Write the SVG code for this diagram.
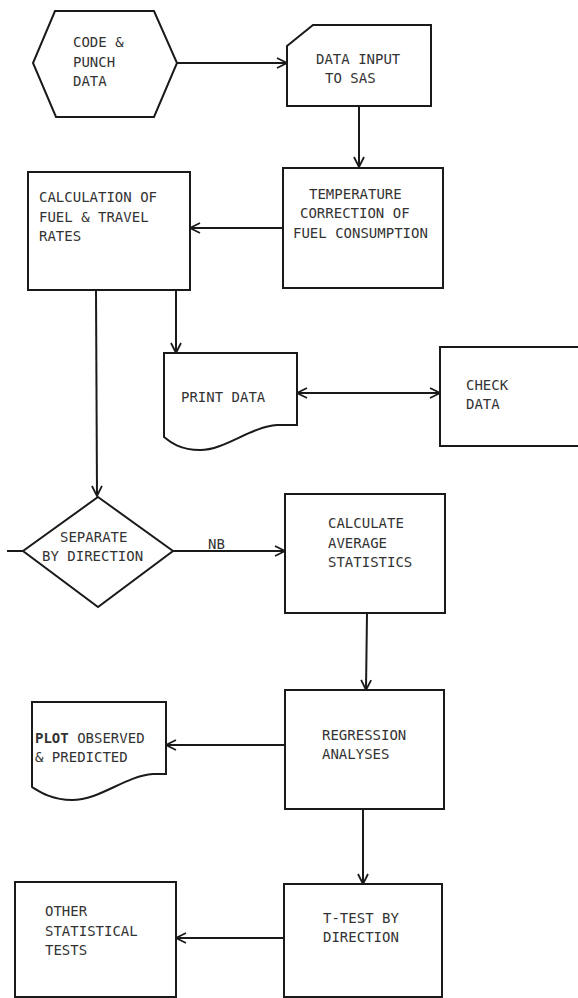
<svg xmlns="http://www.w3.org/2000/svg" width="578" height="998" viewBox="0 0 578 998">
<style>
.s{fill:#fff;stroke:#1a1a1a;stroke-width:2}
.c{fill:none;stroke:#1a1a1a;stroke-width:2}
text{font-family:"DejaVu Sans Mono","Liberation Mono",monospace;font-size:14px;fill:#333}
</style>
<defs>
<marker id="a" viewBox="0 0 12 12" refX="11" refY="6" markerWidth="12" markerHeight="12" markerUnits="userSpaceOnUse" orient="auto-start-reverse">
<path d="M1,1 L11,6 L1,11" fill="none" stroke="#1a1a1a" stroke-width="1.8"/>
</marker>
</defs>
<rect width="578" height="998" fill="#fff"/>
<g id="connectors">
<line class="c" x1="177" y1="63" x2="287" y2="63" marker-end="url(#a)"/>
<line class="c" x1="359" y1="106" x2="359" y2="167" marker-end="url(#a)"/>
<line class="c" x1="283" y1="228" x2="190" y2="228" marker-end="url(#a)"/>
<line class="c" x1="96" y1="290" x2="97" y2="496" marker-end="url(#a)"/>
<line class="c" x1="176" y1="290" x2="176" y2="353" marker-end="url(#a)"/>
<line class="c" x1="297" y1="393" x2="440" y2="393" marker-start="url(#a)" marker-end="url(#a)"/>
<line class="c" x1="7" y1="551" x2="23" y2="551"/>
<line class="c" x1="173" y1="551" x2="285" y2="551" marker-end="url(#a)"/>
<text x="208" y="549">NB</text>
<line class="c" x1="367" y1="613" x2="366" y2="690" marker-end="url(#a)"/>
<line class="c" x1="285" y1="745" x2="166" y2="745" marker-end="url(#a)"/>
<line class="c" x1="363" y1="809" x2="363" y2="884" marker-end="url(#a)"/>
<line class="c" x1="284" y1="938" x2="176" y2="938" marker-end="url(#a)"/>
</g>
<g id="code-punch">
<polygon class="s" points="55,11 154,11 177,63 154,117 56,117 33,63"/>
<text x="73" y="47">CODE &amp;</text>
<text x="73" y="67">PUNCH</text>
<text x="73" y="86">DATA</text>
</g>
<g id="data-input">
<polygon class="s" points="287,46 313,25 431,25 431,106 287,106"/>
<text x="316" y="64">DATA INPUT</text>
<text x="325" y="83">TO SAS</text>
</g>
<g id="temperature">
<rect class="s" x="283" y="168" width="160" height="120"/>
<text x="309" y="199">TEMPERATURE</text>
<text x="300" y="218">CORRECTION OF</text>
<text x="293" y="238">FUEL CONSUMPTION</text>
</g>
<g id="calculation">
<rect class="s" x="28" y="172" width="162" height="118"/>
<text x="39" y="202">CALCULATION OF</text>
<text x="39" y="222">FUEL &amp; TRAVEL</text>
<text x="39" y="241">RATES</text>
</g>
<g id="print-data">
<path class="s" d="M164,353 H297 V425 H277 C250,427 225,450 200,450 C180,450 170,442 164,437 Z"/>
<text x="181" y="402">PRINT DATA</text>
</g>
<g id="check-data">
<rect class="s" x="440" y="347" width="150" height="99"/>
<text x="466" y="390">CHECK</text>
<text x="466" y="409">DATA</text>
</g>
<g id="separate">
<polygon class="s" points="98,497 173,551 98,607 23,551"/>
<text x="60" y="542">SEPARATE</text>
<text x="42" y="561">BY DIRECTION</text>
</g>
<g id="average">
<rect class="s" x="285" y="494" width="160" height="119"/>
<text x="328" y="528">CALCULATE</text>
<text x="328" y="548">AVERAGE</text>
<text x="328" y="567">STATISTICS</text>
</g>
<g id="regression">
<rect class="s" x="285" y="690" width="159" height="119"/>
<text x="322" y="740">REGRESSION</text>
<text x="322" y="759">ANALYSES</text>
</g>
<g id="plot">
<path class="s" d="M32,702 H166 V774 H153 C125,776 100,800 72,800 C52,800 40,792 32,787 Z"/>
<text x="35" y="743"><tspan font-weight="bold">PLOT</tspan> OBSERVED</text>
<text x="35" y="762">&amp; PREDICTED</text>
</g>
<g id="ttest">
<rect class="s" x="284" y="884" width="158" height="113"/>
<text x="323" y="923">T-TEST BY</text>
<text x="323" y="942">DIRECTION</text>
</g>
<g id="other">
<rect class="s" x="15" y="882" width="161" height="115"/>
<text x="45" y="916">OTHER</text>
<text x="45" y="936">STATISTICAL</text>
<text x="45" y="955">TESTS</text>
</g>
</svg>
